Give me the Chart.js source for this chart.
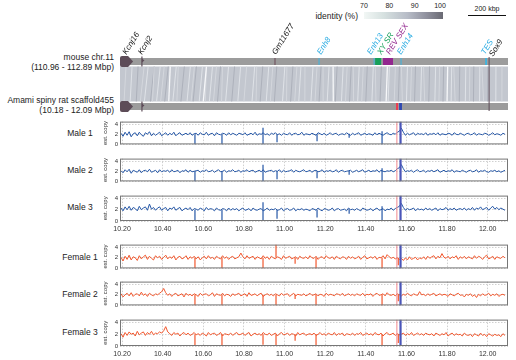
<!DOCTYPE html>
<html>
<head>
<meta charset="utf-8">
<script src="https://cdn.jsdelivr.net/npm/chart.js@4.4.1/dist/chart.umd.min.js"></script>
<style>
  body { margin: 0; width: 516px; height: 360px; position: relative; overflow: hidden; background: #fff;
         font-family: "Liberation Sans", Arial, sans-serif; color: #222; }
  .txt { position: absolute; white-space: nowrap; font-size: 8.5px; line-height: 10px; }
  .right { text-align: right; }
  .center { text-align: center; }
  canvas { display: block; }
</style>
</head>
<body>
<script>
// --- data ---
const xMin = 10.19, xMax = 12.10;          // rat scaffold455 window (Mbp)
const mouseRange = [110.96, 112.89];       // mouse chr.11 window (Mbp)
const xTicks = [10.2, 10.4, 10.6, 10.8, 11.0, 11.2, 11.4, 11.6, 11.8, 12.0];
const yTicks = [0, 1, 2, 3, 4];
const identityTicks = [70, 80, 90, 100];

// 10 kbp bins of estimated copy number
const binStart = 10.19, binWidth = 0.01;
const male1 = [
  2.2,1.6,2.4,1.8,2.5,1.5,2.1,2.3,1.7,2.4,1.9,1.6,2.3,2.0,2.5,1.7,2.2,1.8,2.1,
  2.4,1.7,2.0,2.3,1.8,2.2,1.9,2.4,1.7,2.1,2.3,1.8,2.0,2.2,1.9,2.3,1.8,2.1,2.2,
  1.8,2.3,2.0,1.9,2.4,1.8,2.1,2.2,1.7,2.3,2.0,1.9,2.2,2.1,1.8,2.3,1.9,2.2,2.0,
  1.8,2.2,2.1,1.9,2.3,1.8,2.0,2.2,1.9,2.4,1.8,2.1,2.0,2.3,1.9,2.1,1.8,2.2,2.0,
  2.3,1.9,2.1,1.8,2.2,2.0,1.9,2.3,1.8,2.1,2.2,1.9,2.0,2.4,1.8,2.1,2.0,1.9,2.2,
  2.0,1.8,2.3,2.1,1.9,2.2,1.8,2.0,2.3,1.9,2.1,2.2,1.8,2.0,2.1,1.9,2.3,2.0,1.8,
  2.2,1.9,2.1,2.3,1.8,2.0,2.2,1.9,2.1,2.0,1.8,2.3,1.9,2.2,2.0,1.8,2.1,2.3,2.0,
  1.9,2.2,2.0,2.4,2.6,3.2,2.4,1.8,2.2,1.9,2.1,2.3,1.8,2.2,2.0,2.1,1.9,2.3,1.8,
  2.1,2.0,2.2,1.9,2.3,1.8,2.1,2.0,1.9,2.2,2.1,1.8,2.3,2.0,1.9,2.2,2.0,1.8,2.1,
  2.2,1.9,2.0,2.3,1.8,2.1,2.0,1.9,2.2,2.1,1.8,2.0,2.3,1.9,2.1,2.0,1.8,2.2,2.0];
const male2 = [
  2.1,1.7,2.3,1.9,2.4,1.6,2.2,2.0,1.8,2.3,1.7,2.1,2.2,1.9,2.4,1.8,2.0,2.2,1.7,
  2.3,1.9,2.1,2.0,2.2,1.8,2.3,1.9,2.0,2.2,1.7,2.1,2.0,2.3,1.8,2.2,1.9,2.0,2.1,
  2.2,1.8,2.1,2.0,2.3,1.9,2.0,2.2,1.8,2.1,2.3,1.9,2.0,2.2,1.8,2.1,2.0,2.3,1.9,
  2.0,2.2,1.8,2.1,2.0,2.3,1.9,2.1,2.2,1.8,2.0,2.2,1.9,2.3,1.8,2.0,2.1,2.2,1.9,
  2.1,2.0,2.3,1.8,2.2,1.9,2.0,2.1,2.3,1.8,2.2,2.0,1.9,2.1,2.3,1.9,2.0,2.2,1.8,
  2.1,2.2,1.9,2.0,2.3,1.8,2.1,2.0,2.2,1.9,2.0,2.3,1.8,2.1,2.2,1.9,2.0,2.1,2.2,
  1.8,2.0,2.2,1.9,2.1,2.3,1.8,2.0,2.2,1.9,2.1,2.0,2.3,1.8,2.2,2.0,1.9,2.1,2.0,
  2.2,1.9,2.1,2.5,2.7,3.3,2.5,1.9,2.1,2.0,2.2,1.8,2.1,2.3,1.9,2.0,2.2,1.8,2.1,
  2.0,2.2,1.9,2.1,2.3,1.8,2.0,2.2,1.9,2.1,2.0,2.3,1.8,2.1,2.0,1.9,2.2,2.0,1.8,
  2.1,2.2,1.9,2.0,2.3,1.8,2.1,2.0,2.2,1.9,1.8,2.1,2.0,2.2,1.9,2.1,1.8,2.0,2.2];
const male3 = [
  2.3,1.8,2.5,2.0,2.6,1.9,2.4,2.2,1.8,2.6,2.0,2.3,2.5,1.9,3.0,2.1,2.4,1.9,2.3,
  2.5,1.9,2.2,2.4,1.8,2.3,2.1,2.5,1.9,2.2,2.4,1.8,2.1,2.3,2.0,2.4,1.8,2.2,2.1,
  1.9,2.3,2.1,1.8,2.4,2.0,2.2,2.1,1.8,2.3,2.0,1.9,2.2,2.1,1.8,2.3,1.9,2.2,2.0,
  2.2,1.8,2.1,2.3,1.9,2.0,2.2,1.8,2.3,2.0,1.9,2.1,2.2,1.8,2.0,2.3,1.9,2.1,2.0,
  2.2,1.9,2.0,2.3,1.8,2.1,2.2,1.9,2.0,2.3,1.8,2.1,2.0,2.2,1.9,2.1,2.0,1.8,2.2,
  2.1,1.9,2.3,2.0,1.8,2.2,2.1,1.9,2.0,2.3,1.8,2.1,2.2,1.9,2.0,2.1,1.8,2.3,2.0,
  2.1,1.9,2.2,2.0,1.8,2.3,2.1,1.9,2.0,2.2,1.8,2.1,2.3,1.9,2.0,2.2,1.8,2.1,2.0,
  2.3,1.9,2.2,2.4,2.6,3.1,2.4,1.9,2.2,2.0,2.1,2.3,1.8,2.2,2.0,2.1,1.9,2.3,2.0,
  2.2,1.9,2.1,2.3,1.8,2.2,2.0,2.1,2.4,1.9,2.2,2.0,2.3,1.9,2.1,2.2,2.0,2.3,1.9,
  2.2,2.0,2.4,1.9,2.3,2.1,2.5,2.0,2.2,2.4,1.9,2.3,2.6,2.1,2.4,2.0,2.3,2.1,1.9];
const female1 = [
  2.1,1.4,2.3,1.7,2.5,1.6,2.2,2.0,1.5,2.4,1.8,2.2,2.5,1.7,2.3,1.9,1.6,2.4,2.0,
  2.3,1.7,2.1,2.5,1.8,2.2,1.9,2.4,1.6,2.1,2.3,1.8,2.0,2.4,1.7,2.2,1.9,2.3,1.8,
  2.2,1.6,2.0,2.3,1.8,2.4,1.9,2.1,1.7,2.3,2.0,1.8,2.4,1.9,2.2,1.7,2.1,2.3,1.8,
  2.0,2.2,2.9,2.2,1.8,2.4,1.9,2.1,2.3,1.7,2.2,2.0,1.8,2.4,1.9,2.2,1.7,2.3,2.0,
  1.8,2.2,2.0,1.7,2.4,1.9,2.1,2.3,1.8,2.0,2.2,1.7,2.3,2.0,1.9,2.2,1.8,2.4,2.0,
  1.9,2.3,1.7,2.1,2.2,1.8,2.4,2.0,1.9,2.2,1.7,2.3,2.0,1.8,2.2,2.1,1.7,2.3,1.9,
  2.2,1.8,2.0,2.3,1.7,2.1,2.4,1.8,2.0,2.2,1.9,2.3,1.7,2.1,2.0,2.4,1.8,2.6,2.2,
  1.9,2.1,1.8,2.0,1.7,1.9,1.5,2.0,1.6,2.2,1.7,1.9,2.1,1.6,2.0,1.8,2.2,1.7,2.3,
  1.9,2.2,2.4,1.8,2.3,2.0,2.8,2.1,1.9,2.3,1.8,2.2,2.0,2.4,1.7,2.2,1.9,2.3,1.8,
  2.2,2.0,1.8,2.4,1.9,2.3,2.1,1.7,2.2,2.5,1.8,2.0,2.3,1.7,2.2,2.0,1.9,2.3,2.0];
const female2 = [
  2.2,1.6,2.0,2.3,1.8,2.4,1.7,2.1,2.2,1.8,2.5,1.9,2.2,1.7,2.3,2.0,1.8,2.2,2.0,
  2.3,2.6,3.2,2.4,1.9,2.2,1.7,2.1,2.3,1.8,2.0,2.2,1.6,2.3,1.9,2.1,1.8,2.2,2.0,
  1.7,2.3,1.9,2.1,2.2,1.8,2.0,2.4,1.7,2.2,2.0,1.9,2.3,1.8,2.1,2.0,1.7,2.2,1.9,
  2.1,2.3,1.8,2.0,2.2,1.7,2.4,1.9,2.0,2.2,1.8,2.1,2.3,1.7,2.0,2.2,1.9,2.1,1.8,
  2.2,2.0,1.8,2.3,1.9,2.1,2.2,1.7,2.0,2.3,1.8,2.1,2.0,1.9,2.2,1.8,2.0,2.3,1.9,
  2.0,2.2,1.8,2.1,2.0,1.7,2.3,1.9,2.1,2.0,1.8,2.2,2.1,1.9,2.3,1.8,2.0,2.2,1.9,
  2.1,1.8,2.2,2.0,1.9,2.3,1.8,2.1,2.0,2.2,1.7,2.1,2.3,1.9,2.0,2.2,1.8,2.4,2.0,
  1.9,2.1,1.8,2.2,2.0,1.8,2.1,1.9,2.3,2.0,1.8,2.2,2.0,1.9,2.6,2.0,2.1,1.8,2.2,
  1.9,2.1,2.3,1.8,2.0,2.2,1.9,2.1,2.0,1.7,2.2,2.0,1.8,2.1,2.3,1.9,2.0,1.6,2.1,
  1.9,2.2,1.7,2.0,1.5,2.1,1.8,2.2,1.9,2.0,2.3,1.8,2.1,1.9,2.2,1.7,2.0,2.1,1.9];
const female3 = [
  2.1,1.5,2.3,1.8,2.4,2.0,2.2,1.7,2.5,1.9,2.2,2.4,1.8,2.3,2.0,2.5,1.9,2.2,2.1,
  2.4,2.2,2.6,3.3,2.4,2.1,1.8,2.3,2.0,2.2,1.7,2.1,2.3,1.9,2.2,1.8,2.0,2.3,1.9,
  2.1,1.8,2.2,2.0,1.7,2.3,1.9,2.1,2.2,1.8,2.0,2.3,1.7,2.1,2.0,1.9,2.2,1.8,2.1,
  2.3,1.9,2.0,2.2,1.8,2.1,2.3,1.7,2.0,2.2,1.9,2.1,1.8,2.3,2.0,1.9,2.2,1.8,2.0,
  2.2,1.7,2.1,2.3,1.9,2.0,2.2,1.8,2.1,2.0,1.7,2.3,1.9,2.1,2.2,1.8,2.0,2.1,1.9,
  2.2,1.8,2.0,2.3,1.9,2.1,1.8,2.2,2.0,1.9,2.3,1.8,2.1,2.0,2.2,1.7,2.1,2.0,1.9,
  2.2,1.8,2.1,2.0,2.3,1.8,2.0,2.2,1.9,2.1,1.8,2.3,2.0,1.9,2.2,1.7,2.1,2.3,1.9,
  2.0,2.2,1.8,2.1,1.9,2.0,2.2,1.8,2.1,1.9,2.3,1.8,2.0,2.2,1.9,2.1,1.8,2.2,2.0,
  1.9,2.1,1.7,2.2,2.0,1.8,2.1,1.9,2.3,1.7,2.0,2.2,1.8,2.1,1.9,2.0,1.7,2.2,1.9,
  1.8,2.0,1.6,2.1,1.9,1.7,2.2,1.8,2.0,1.6,2.1,1.9,1.7,2.0,1.8,1.9,1.6,2.1,1.8];

// narrow drops in coverage
const maleDipX    = [10.559, 10.692, 10.894, 10.963, 11.160, 11.318, 11.480];
const maleDipLow  = [0, 0, 0, 0.4, 0.6, 1.3, 0];
const maleDipHigh = [2.0, 2.0, 3.3, 2.0, 2.0, 2.1, 2.6];
const femaleDipX    = [10.559, 10.692, 10.894, 10.958, 11.052, 11.155, 11.480, 11.560];
const female1DipLow = [0, 0, 0, 2.0, 0.9, 0, 0, 0.6];
const female2DipLow = [0, 0, 0, 0, 1.2, 0, 0, 0.8];
const female3DipLow = [0, 0, 0.2, 0, 0.9, 0, 0, 0.5];
const female1DipHigh = [2.0, 2.0, 2.0, 4.5, 2.0, 2.0, 2.0, 2.0];
const femaleDipHigh  = [2.0, 2.0, 2.0, 2.0, 2.0, 2.0, 2.0, 2.0];

// marker lines through the panels (red / blue blocks on the rat scaffold)
const markerX = [11.553, 11.571];

// features on mouse chr.11 (Mbp)
const mouseFeature = ['Kcnj16', 'Kcnj2', 'Gm11677', 'Enh8', 'Enh13', 'XY SR', 'REV SEX', 'Enh14', 'TES', 'Sox9'];
const mouseStart   = [110.96, 111.069, 111.731, 111.95, 112.224, 112.229, 112.268, 112.358, 112.781, 112.796];
const mouseEnd     = [111.025, 111.069, 111.731, 111.95, 112.224, 112.259, 112.318, 112.358, 112.781, 112.796];
// features on rat scaffold455 (Mbp)
const ratFeature = ['Kcnj16', 'Kcnj2', 'redBlock', 'blueBlock', 'Sox9'];
const ratStart   = [10.19, 10.298, 11.549, 11.564, 12.007];
const ratEnd     = [10.254, 10.298, 11.559, 11.578, 12.007];

// synteny streaks: mouse position ↔ rat position
const synLightRat   = [10.24,10.31,10.37,10.45,10.52,10.58,10.63,10.71,10.77,10.84,10.91,10.99,11.07,11.13,11.21,11.28,11.36,11.43,11.51,11.60,11.67,11.74,11.82,11.89,11.96,12.04];
const synLightMouse = [111.02,111.10,111.16,111.24,111.31,111.37,111.42,111.50,111.56,111.63,111.70,111.78,111.86,111.92,112.00,112.07,112.15,112.22,112.30,112.39,112.46,112.53,112.61,112.68,112.75,112.83];
const synMidRat     = [10.21,10.29,10.35,10.39,10.47,10.54,10.61,10.65,10.69,10.80,10.86,10.93,11.01,11.05,11.10,11.15,11.19,11.30,11.34,11.38,11.45,11.54,11.58,11.62,11.69,11.76,11.84,11.91,11.98,12.07];
const synMidMouse   = [110.99,111.08,111.13,111.18,111.25,111.33,111.39,111.44,111.47,111.59,111.64,111.72,111.79,111.84,111.88,111.94,111.97,112.09,112.12,112.17,112.23,112.33,112.36,112.41,112.47,112.55,112.62,112.70,112.76,112.86];
const synDarkRat    = [10.27,10.34,10.41,10.49,10.55,10.67,10.74,10.88,10.95,11.03,11.17,11.25,11.32,11.40,11.47,11.56,11.64,11.71,11.78,11.86,11.93,12.00];
const synDarkMouse  = [111.05,111.13,111.20,111.28,111.34,111.46,111.53,111.67,111.74,111.82,111.96,112.04,112.11,112.19,112.26,112.35,112.43,112.50,112.57,112.65,112.72,112.79];
const synWhiteRat   = [10.43, 10.60, 11.24, 11.50, 11.80];
const synWhiteMouse = [111.21, 111.39, 112.02, 112.29, 112.59];

// --- styles ---
const FONT = '"Liberation Sans", Arial, sans-serif';
Chart.defaults.font.family = FONT;
const featureStyle = {
  'Kcnj16':   { kind: 'arrow', color: '#5d4c58', label: '#111', nudge: 0 },
  'Kcnj2':    { kind: 'gene',  color: '#5d4c58', label: '#111', nudge: 0 },
  'Gm11677':  { kind: 'tick',  color: '#6b4a58', label: '#111', nudge: 1 },
  'Enh8':     { kind: 'tick',  color: '#3cb4e0', label: '#29abe2', nudge: 2 },
  'Enh13':    { kind: 'tick',  color: '#3cb4e0', label: '#29abe2', nudge: -3 },
  'XY SR':    { kind: 'block', color: '#16a05a', label: '#16a05a', nudge: 3 },
  'REV SEX':  { kind: 'block', color: '#93278f', label: '#93278f', nudge: 2 },
  'Enh14':    { kind: 'tick',  color: '#3cb4e0', label: '#29abe2', nudge: 0 },
  'TES':      { kind: 'wide',  color: '#3cb4e0', label: '#29abe2', nudge: -1 },
  'Sox9':     { kind: 'link',  color: '#5d4c58', label: '#111', nudge: 4 },
  'redBlock': { kind: 'block', color: '#ee3b4f' },
  'blueBlock':{ kind: 'block', color: '#2f49b0' }
};
const rowMouse = 61.5, rowRat = 106.5, synTop = 66.5, synBottom = 101.5;

function addCanvas(left, top, w, h) {
  const wrap = document.createElement('div');
  wrap.style.cssText = `position:absolute;left:${left}px;top:${top}px;width:${w}px;height:${h}px`;
  const c = document.createElement('canvas');
  wrap.appendChild(c);
  document.body.appendChild(wrap);
  return c;
}
function addText(text, css, cls) {
  const d = document.createElement('div');
  d.className = 'txt ' + (cls || '');
  d.style.cssText = css;
  d.textContent = text;
  document.body.appendChild(d);
  return d;
}

// --- header: identity legend and scale bar ---
addText('identity (%)', 'right:158px;top:11px;font-size:8.5px;', 'right');
const grad = document.createElement('div');
grad.style.cssText = 'position:absolute;left:364px;top:12px;width:79px;height:7px;' +
  'background:linear-gradient(to right,#f2f7f5 0%,#d6e1e0 25%,#b7bcc7 55%,#8e8f9c 80%,#6a6a73 100%)';
document.body.appendChild(grad);
identityTicks.forEach(v => {
  const x = 364 + (v - identityTicks[0]) / (identityTicks[identityTicks.length - 1] - identityTicks[0]) * 76;
  addText(String(v), `left:${x - 10}px;width:20px;top:1px;font-size:7px;`, 'center');
});
addText('200 kbp', 'left:466px;width:42px;top:4px;font-size:7px;', 'center');
const bar = document.createElement('div');
bar.style.cssText = 'position:absolute;left:468px;top:15px;width:38px;height:1px;background:#111';
document.body.appendChild(bar);

// --- left labels ---
addText('mouse chr.11', 'right:402px;top:52px;', 'right');
addText('(110.96 - 112.89 Mbp)', 'right:402px;top:62px;', 'right');
addText('Amami spiny rat scaffold455', 'right:402px;top:95px;', 'right');
addText('(10.18 - 12.09 Mbp)', 'right:402px;top:105px;', 'right');

// --- gene track + synteny ---
const trackPlugin = {
  id: 'track',
  beforeDatasetsDraw(chart) {
    const ctx = chart.ctx, xm = chart.scales.xm, xr = chart.scales.xr;
    ctx.save();
    ctx.fillStyle = '#c3c7cf';
    ctx.beginPath();
    ctx.moveTo(xm.getPixelForValue(mouseRange[0]), synTop);
    ctx.lineTo(xm.getPixelForValue(mouseRange[1]), synTop);
    ctx.lineTo(xr.getPixelForValue(xMax), synBottom);
    ctx.lineTo(xr.getPixelForValue(xMin), synBottom);
    ctx.closePath();
    ctx.fill();
    const streak = (mArr, rArr, color, w) => {
      ctx.strokeStyle = color; ctx.lineWidth = w;
      mArr.forEach((m, i) => {
        ctx.beginPath();
        ctx.moveTo(xm.getPixelForValue(m), synTop);
        ctx.lineTo(xr.getPixelForValue(rArr[i]), synBottom);
        ctx.stroke();
      });
    };
    streak(synDarkMouse, synDarkRat, '#adb1bb', 1);
    streak(synMidMouse, synMidRat, '#d4d7dd', 1);
    streak(synLightMouse, synLightRat, '#e2e5ea', 0.9);
    streak(synWhiteMouse, synWhiteRat, '#f6f7f9', 1.3);
    ctx.restore();
  },
  afterDatasetsDraw(chart) {
    const ctx = chart.ctx, xm = chart.scales.xm, xr = chart.scales.xr;
    ctx.save();
    const drawFeature = (name, s, e, scale, row) => {
      const st = featureStyle[name];
      const x0 = scale.getPixelForValue(s), x1 = scale.getPixelForValue(e);
      ctx.fillStyle = st.color; ctx.strokeStyle = st.color;
      if (st.kind === 'arrow') {
        ctx.beginPath();
        ctx.moveTo(x0 + 2, row - 5.5); ctx.lineTo(x1 - 5, row - 5.5); ctx.lineTo(x1, row);
        ctx.lineTo(x1 - 5, row + 5.5); ctx.lineTo(x0 + 2, row + 5.5);
        ctx.quadraticCurveTo(x0, row + 5.5, x0, row + 3.5); ctx.lineTo(x0, row - 3.5);
        ctx.quadraticCurveTo(x0, row - 5.5, x0 + 2, row - 5.5);
        ctx.fill();
      } else if (st.kind === 'gene') {
        ctx.lineWidth = 1.2;
        ctx.beginPath(); ctx.moveTo(x0, row - 5); ctx.lineTo(x0, row + 5); ctx.stroke();
        ctx.beginPath(); ctx.moveTo(x0, row - 3); ctx.lineTo(x0 + 2.5, row - 1); ctx.lineTo(x0, row + 1); ctx.fill();
      } else if (st.kind === 'tick' || st.kind === 'wide') {
        ctx.lineWidth = st.kind === 'wide' ? 1.8 : 1;
        ctx.beginPath(); ctx.moveTo(x0, row - 3.5); ctx.lineTo(x0, row + 3.5); ctx.stroke();
      } else if (st.kind === 'block') {
        ctx.fillRect(x0, row - 3.5, Math.max(1, x1 - x0), 7);
      }
    };
    mouseFeature.forEach((n, i) => { if (featureStyle[n].kind !== 'link') drawFeature(n, mouseStart[i], mouseEnd[i], xm, rowMouse); });
    ratFeature.forEach((n, i) => { if (featureStyle[n].kind !== 'link') drawFeature(n, ratStart[i], ratEnd[i], xr, rowRat); });
    // Sox9 link through the synteny band
    const mi = mouseFeature.indexOf('Sox9'), ri = ratFeature.indexOf('Sox9');
    ctx.strokeStyle = featureStyle.Sox9.color; ctx.lineWidth = 1;
    ctx.beginPath();
    ctx.moveTo(xm.getPixelForValue(mouseStart[mi]), rowMouse - 4.5);
    ctx.lineTo(xr.getPixelForValue(ratStart[ri]), rowRat + 4.5);
    ctx.stroke();
    // rotated labels
    ctx.font = 'italic 8px ' + FONT;
    ctx.textAlign = 'left'; ctx.textBaseline = 'alphabetic';
    mouseFeature.forEach((n, i) => {
      const st = featureStyle[n];
      const px = (xm.getPixelForValue(mouseStart[i]) + xm.getPixelForValue(mouseEnd[i])) / 2;
      ctx.save();
      ctx.translate(px + st.nudge, n === 'Sox9' ? 57 : 55);
      ctx.rotate(-58 * Math.PI / 180);
      ctx.fillStyle = st.label;
      ctx.fillText(n, 0, 0);
      ctx.restore();
    });
    ctx.restore();
  }
};

new Chart(addCanvas(0, 0, 516, 116), {
  type: 'line',
  data: { datasets: [
    { xAxisID: 'xm', data: [{ x: mouseRange[0], y: rowMouse }, { x: mouseRange[1], y: rowMouse }],
      borderColor: '#9c9c9c', borderWidth: 7, borderCapStyle: 'butt', pointRadius: 0 },
    { xAxisID: 'xr', data: [{ x: xMin, y: rowRat }, { x: xMax, y: rowRat }],
      borderColor: '#9c9c9c', borderWidth: 7, borderCapStyle: 'butt', pointRadius: 0 }
  ]},
  options: {
    animation: false, responsive: true, maintainAspectRatio: false,
    layout: { padding: { left: 120, right: 8, top: 0, bottom: 0 } },
    plugins: { legend: { display: false }, tooltip: { enabled: false } },
    scales: {
      xm: { type: 'linear', axis: 'x', position: 'bottom', min: mouseRange[0], max: mouseRange[1], display: false },
      xr: { type: 'linear', axis: 'x', position: 'bottom', min: xMin, max: xMax, display: false },
      y:  { type: 'linear', min: 0, max: 116, reverse: true, display: false }
    }
  },
  plugins: [trackPlugin]
});

// --- copy-number panels ---
const boxPlugin = {
  id: 'box',
  afterDatasetsDraw(chart) {
    const { ctx, chartArea: a } = chart;
    ctx.save();
    ctx.strokeStyle = '#767676'; ctx.lineWidth = 1;
    ctx.strokeRect(a.left + 0.5, a.top + 0.5, a.right - a.left - 1, a.bottom - a.top - 1);
    ctx.restore();
  }
};

function drawPanel(label, top, area, values, color, dipX, dipLow, dipHigh, showTicks) {
  const padTop = 3, axisH = showTicks ? 13 : 0;
  addText(label, `left:40px;width:80px;top:${top + area / 2 - 5}px;font-size:8.5px;`, 'center');
  const canvas = addCanvas(100, top - padTop, 416, padTop + area + axisH + 3);
  const trace = values.map((v, i) => ({ x: binStart + binWidth * (i + 0.5), y: v }));
  const dips = [];
  dipX.forEach((x, i) => { dips.push({ x, y: dipHigh[i] }, { x, y: dipLow[i] }, { x, y: null }); });
  const grid = { color: '#c4c4c4', lineWidth: 0.8, drawTicks: false };
  new Chart(canvas, {
    type: 'line',
    data: { datasets: [
      { data: [{ x: markerX[0], y: 0 }, { x: markerX[0], y: 4.5 }], borderColor: '#f2898c', borderWidth: 1, order: 0 },
      { data: [{ x: markerX[1], y: 0 }, { x: markerX[1], y: 4.5 }], borderColor: '#4a55b8', borderWidth: 2.2, order: 0 },
      { data: dips, borderColor: color, borderWidth: 1.2, order: 1 },
      { data: trace, borderColor: color, borderWidth: 1, order: 2 }
    ]},
    options: {
      animation: false, responsive: true, maintainAspectRatio: false,
      layout: { padding: { top: padTop, right: 8, bottom: 3, left: 0 } },
      elements: { point: { radius: 0 }, line: { tension: 0 } },
      plugins: { legend: { display: false }, tooltip: { enabled: false } },
      scales: {
        x: {
          type: 'linear', min: xMin, max: xMax,
          afterBuildTicks: s => { s.ticks = xTicks.map(v => ({ value: v })); },
          afterFit: s => { s.height = axisH; },
          grid, border: { display: false, dash: [1.5, 1.5] },
          ticks: { display: showTicks, autoSkip: false, maxRotation: 0, padding: 4, color: '#333',
                   font: { size: 7 }, callback: v => Number(v).toFixed(2) }
        },
        y: {
          min: 0, max: 4.5,
          afterBuildTicks: s => { s.ticks = yTicks.map(v => ({ value: v })); },
          afterFit: s => { s.width = 20; },
          grid, border: { display: false, dash: [1.5, 1.5] },
          ticks: { padding: 2, color: '#333', font: { size: 6 } },
          title: { display: true, text: 'est. copy', color: '#333', font: { size: 6 }, padding: { top: 2, bottom: 0 } }
        }
      }
    },
    plugins: [boxPlugin]
  });
}

const maleColor = '#2456a6', femaleColor = '#f2572d';
drawPanel('Male 1', 119, 28, male1, maleColor, maleDipX, maleDipLow, maleDipHigh, false);
drawPanel('Male 2', 156, 28, male2, maleColor, maleDipX, maleDipLow, maleDipHigh, false);
drawPanel('Male 3', 193, 28, male3, maleColor, maleDipX, maleDipLow, maleDipHigh, true);
drawPanel('Female 1', 242, 29, female1, femaleColor, femaleDipX, female1DipLow, female1DipHigh, false);
drawPanel('Female 2', 279, 29, female2, femaleColor, femaleDipX, female2DipLow, femaleDipHigh, false);
drawPanel('Female 3', 317, 29, female3, femaleColor, femaleDipX, female3DipLow, femaleDipHigh, true);
</script>
</body>
</html>
